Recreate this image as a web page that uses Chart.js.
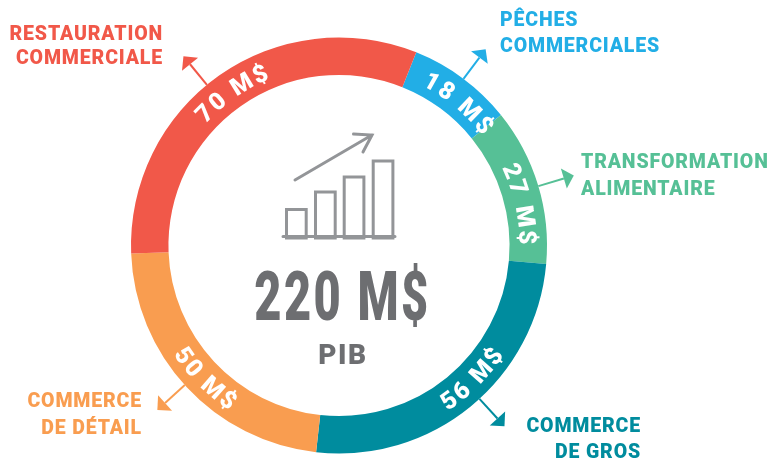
<!DOCTYPE html>
<html lang="fr">
<head>
    <meta charset="utf-8">
    <title>PIB 220 M$</title>
    <script src="https://cdn.jsdelivr.net/npm/chart.js"></script>
    <style>
        html, body { margin: 0; background: white; }
        #wrap { width: 769px; height: 462px; }
    </style>
</head>
<body>
    <div id="wrap"><canvas id="pibChart" width="769" height="462"></canvas></div>

    <script>
        // clockwise from the top of the ring, starting at the blue slice
        const categories = [
            ['PÊCHES', 'COMMERCIALES'],
            ['TRANSFORMATION', 'ALIMENTAIRE'],
            ['COMMERCE', 'DE GROS'],
            ['COMMERCE', 'DE DÉTAIL'],
            ['RESTAURATION', 'COMMERCIALE']
        ];
        const values = [18, 27, 56, 50, 70];
        const valueUnit = ' M$';
        const totalLabel = '220 M$';
        const totalCaption = 'PIB';

        const colors = ['#22AEE6', '#56C096', '#008C9E', '#F99D50', '#F15849'];
        const darkGrey = '#6D6E71';
        const iconGrey = '#939598';

        // hand placement, the source graphic does not centre these on the slices
        const labelShift = [3.1, 3.6, -5.2, -1.5, -0.3];
        const arrowShift = [0.3, 0.3, -3.2, 0.8, -4.2];
        const labelFlip = [false, false, true, true, false];
        const nameSpots = [
            { x: 500, y: 26, align: 'left', step: 26.3 },
            { x: 581, y: 168, align: 'left', step: 27.3 },
            { x: 641, y: 432, align: 'right', step: 25.5 },
            { x: 142, y: 407, align: 'right', step: 27 },
            { x: 163, y: 40, align: 'right', step: 24 }
        ];

        const rad = d => d * Math.PI / 180;

        function drawAlongArc(ctx, text, cx, cy, midRadius, angle, flip) {
            const capHeight = 17.5;
            const spacing = 2.4;
            ctx.font = '900 24.5px Roboto';
            ctx.textAlign = 'left';
            ctx.textBaseline = 'alphabetic';
            ctx.fillStyle = 'white';
            const widths = [...text].map(ch => ctx.measureText(ch).width + spacing);
            const total = widths.reduce((a, b) => a + b, 0) - spacing;
            const r = flip ? midRadius + capHeight / 2 : midRadius - capHeight / 2;
            let run = -total / 2;
            [...text].forEach((ch, i) => {
                const along = (run + widths[i] / 2) / r;
                const a = flip ? angle - along : angle + along;
                ctx.save();
                ctx.translate(cx + Math.cos(a) * r, cy + Math.sin(a) * r);
                ctx.rotate(flip ? a - Math.PI / 2 : a + Math.PI / 2);
                ctx.fillText(ch, -(widths[i] - spacing) / 2, 0);
                ctx.restore();
                run += widths[i];
            });
        }

        function drawArrow(ctx, cx, cy, from, to, angle, color) {
            const head = 10.4;
            const ux = Math.cos(angle), uy = Math.sin(angle);
            const tipX = cx + ux * to, tipY = cy + uy * to;
            ctx.strokeStyle = color;
            ctx.fillStyle = color;
            ctx.lineWidth = 2;
            ctx.beginPath();
            ctx.moveTo(cx + ux * from, cy + uy * from);
            ctx.lineTo(cx + ux * (to - head), cy + uy * (to - head));
            ctx.stroke();
            ctx.beginPath();
            ctx.moveTo(tipX, tipY);
            ctx.lineTo(tipX - ux * head - uy * head, tipY - uy * head + ux * head);
            ctx.lineTo(tipX - ux * head + uy * head, tipY - uy * head - ux * head);
            ctx.closePath();
            ctx.fill();
        }

        // little growth picture in the hole of the ring, not data
        function drawIcon(ctx, cx, cy) {
            const barLefts = [-52.5, -23.5, 5.2, 34.2];
            const barHeights = [28.5, 46, 61, 77];
            const baseY = cy - 9;
            ctx.strokeStyle = iconGrey;
            ctx.lineWidth = 3;
            ctx.lineCap = 'round';
            barHeights.forEach((h, i) => {
                ctx.strokeRect(cx + barLefts[i], baseY - h + 1.5, 19.7, h);
            });
            ctx.beginPath();
            ctx.moveTo(cx - 56, baseY);
            ctx.lineTo(cx + 56, baseY);
            ctx.moveTo(cx - 44, cy - 65.5);
            ctx.lineTo(cx + 33, cy - 110.5);
            ctx.moveTo(cx + 14.5, cy - 111.5);
            ctx.lineTo(cx + 33, cy - 110.5);
            ctx.lineTo(cx + 24, cy - 93.5);
            ctx.stroke();
        }

        const ringText = {
            id: 'ringText',
            afterDatasetsDraw(chart) {
                const ctx = chart.ctx;
                const arcs = chart.getDatasetMeta(0).data;
                const first = arcs[0];
                const cx = first.x, cy = first.y;
                const outer = first.outerRadius, inner = first.innerRadius;
                const mid = (outer + inner) / 2;

                arcs.forEach((arc, i) => {
                    const midAngle = (arc.startAngle + arc.endAngle) / 2;
                    ctx.save();
                    drawAlongArc(ctx, values[i] + valueUnit, cx, cy, mid, midAngle + rad(labelShift[i]), labelFlip[i]);
                    ctx.restore();
                    ctx.save();
                    drawArrow(ctx, cx, cy, outer, outer + 37, midAngle + rad(arrowShift[i]), colors[i]);
                    ctx.restore();

                    const spot = nameSpots[i];
                    ctx.save();
                    ctx.font = '900 19.5px Roboto';
                    ctx.letterSpacing = '0.85px';
                    ctx.textAlign = spot.align;
                    ctx.textBaseline = 'alphabetic';
                    ctx.fillStyle = colors[i];
                    categories[i].forEach((line, n) => ctx.fillText(line, spot.x, spot.y + n * spot.step));
                    ctx.restore();
                });

                ctx.save();
                drawIcon(ctx, cx, cy);
                ctx.restore();

                ctx.save();
                ctx.fillStyle = darkGrey;
                ctx.textAlign = 'center';
                ctx.textBaseline = 'alphabetic';
                ctx.translate(342.5, 320);
                ctx.scale(0.69, 1);
                ctx.font = '900 68px Roboto';
                ctx.letterSpacing = '3.6px';
                ctx.fillText(totalLabel, 0, 0);
                ctx.restore();

                ctx.save();
                ctx.fillStyle = darkGrey;
                ctx.textAlign = 'center';
                ctx.font = '900 28px Roboto';
                ctx.letterSpacing = '1.5px';
                ctx.fillText(totalCaption, 343, 364);
                ctx.restore();
            }
        };

        new Chart(document.getElementById('pibChart'), {
            type: 'doughnut',
            data: {
                labels: categories.map(c => c.join(' ')),
                datasets: [{ data: values, backgroundColor: colors, borderWidth: 0 }]
            },
            options: {
                responsive: false,
                animation: false,
                rotation: 21.8,
                cutout: '82%',
                layout: { padding: { left: 131, right: 222, top: 37.5, bottom: 8.5 } },
                plugins: { legend: { display: false }, tooltip: { enabled: false } }
            },
            plugins: [ringText]
        });
    </script>
</body>
</html>
